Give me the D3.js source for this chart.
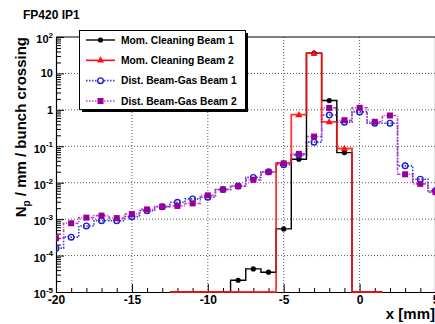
<!DOCTYPE html>
<html>
<head>
<meta charset="utf-8">
<script src="https://cdn.jsdelivr.net/npm/d3@7"></script>
<style>
  html, body { margin: 0; padding: 0; background: #fff; }
  svg { display: block; font-family: 'Liberation Sans', Arial, sans-serif; font-weight: bold; }
</style>
</head>
<body>
<svg id="chart" width="435" height="324"></svg>
<script>
// bin centres (1 mm bins) and contents
const gasBins = [-20, -19, -18, -17, -16, -15, -14, -13, -12, -11, -10, -9, -8, -7, -6, -5, -4, -3, -2, -1, 0, 1, 2, 3, 4, 5];
const beamGas1 = [1.6e-4, 3.2e-4, 6.5e-4, 9.1e-4, 9.0e-4, 1.17e-3, 1.7e-3, 2.2e-3, 2.9e-3, 3.6e-3, 4.0e-3, 6.5e-3, 8.1e-3,
  0.014, 0.020, 0.031, 0.058, 0.13, 0.72, 0.46, 0.88, 0.43, 0.43, 0.029, 0.0125, 0.006];
const beamGas2 = [3.0e-4, 7.7e-4, 1.1e-3, 1.25e-3, 1.07e-3, 1.38e-3, 1.85e-3, 2.2e-3, 2.3e-3, 2.7e-3, 4.5e-3, 6.5e-3, 8.0e-3,
  0.012, 0.0195, 0.034, 0.062, 0.185, 1.13, 0.52, 1.14, 0.47, 0.70, 0.017, 0.0093, 0.0055];

const cleanBins = [-12, -11, -10, -9, -8, -7, -6, -5, -4, -3, -2, -1, 0, 1];
const cleaning1 = [0, 0, 0, 0, 2.1e-5, 4.3e-5, 3.5e-5, 5.4e-4, 0.044, 36, 1.8, 0.067, 0, 0];
const cleaning2 = [0, 0, 0, 0, 0, 0, 0, 0.035, 0.74, 36, 0.47, 0.087, 0, 0];

const xTicks = [-20, -15, -10, -5, 0, 5];
const xMinorTicks = [-19, -18, -17, -16, -14, -13, -12, -11, -9, -8, -7, -6, -4, -3, -2, -1, 1, 2, 3, 4];
const xGrid = [-15, -10, -5, 0];
const yDecades = [1e-5, 1e-4, 1e-3, 1e-2, 1e-1, 1, 10, 100];
const yTickLabels = [['10', '-5'], ['10', '-4'], ['10', '-3'], ['10', '-2'], ['10', '-1'], ['1', ''], ['10', ''], ['10', '2']];
const yGrid = [1e-4, 1e-3, 1e-2, 1e-1, 1, 10];

const legendLabels = ['Mom. Cleaning Beam 1', 'Mom. Cleaning Beam 2', 'Dist. Beam-Gas Beam 1', 'Dist. Beam-Gas Beam 2'];

const C = {
  black: '#000000',
  red: '#ff1010',
  blue: '#1f1fd0',
  blueLine: '#3a3ae0',
  purple: '#990099',
  purpleLine: '#c03cc8'
};

const svg = d3.select('#chart');
const frame = { left: 56, right: 435.5, top: 37, bottom: 292 };

const x = d3.scaleLinear().domain([-20, 5]).range([frame.left, frame.right]);
const y = d3.scaleLog().domain([1e-5, 100]).range([frame.bottom, frame.top]).clamp(true);
const yPos = (v) => (v > 0 ? y(v) : frame.bottom);

svg.append('defs').append('clipPath').attr('id', 'plot-clip')
  .append('rect').attr('x', frame.left).attr('y', frame.top - 1)
  .attr('width', frame.right - frame.left).attr('height', frame.bottom - frame.top + 2);

// grid
const grid = svg.append('g').attr('stroke', '#333').attr('stroke-width', 0.8).attr('stroke-dasharray', '1,2');
grid.selectAll('line.gx').data(xGrid).join('line').attr('class', 'gx')
  .attr('x1', (d) => x(d)).attr('x2', (d) => x(d)).attr('y1', frame.top).attr('y2', frame.bottom);
grid.selectAll('line.gy').data(yGrid).join('line').attr('class', 'gy')
  .attr('x1', frame.left).attr('x2', frame.right).attr('y1', (d) => y(d)).attr('y2', (d) => y(d));

// axes (ticks point into the frame)
svg.append('g')
  .attr('transform', `translate(0,${frame.bottom})`)
  .call(d3.axisBottom(x).tickValues(xMinorTicks).tickSize(-4).tickSizeOuter(0).tickFormat(''))
  .call((g) => g.select('.domain').remove());
const xAxis = svg.append('g')
  .attr('transform', `translate(0,${frame.bottom})`)
  .call(d3.axisBottom(x).tickValues(xTicks).tickSize(-8).tickSizeOuter(0).tickPadding(3).tickFormat((d) => String(d)));
xAxis.selectAll('text').attr('font-size', 12).attr('font-weight', 'bold')
  .attr('font-family', 'Liberation Sans, Arial, sans-serif').attr('fill', '#000');
xAxis.select('.domain').attr('stroke-width', 1.2);

const yMinor = [];
yDecades.slice(0, -1).forEach((d) => [2, 3, 4, 5, 6, 7, 8, 9].forEach((m) => yMinor.push(d * m)));
svg.append('g')
  .attr('transform', `translate(${frame.left},0)`)
  .call(d3.axisLeft(y).tickValues(yMinor).tickSize(-5).tickSizeOuter(0).tickFormat(''))
  .call((g) => g.select('.domain').remove());
svg.append('g')
  .attr('transform', `translate(${frame.left},0)`)
  .call(d3.axisLeft(y).tickValues(yDecades).tickSize(-8).tickSizeOuter(0).tickFormat(''))
  .call((g) => g.select('.domain').attr('stroke-width', 1.2));

const yLabels = svg.append('g').attr('font-size', 11).attr('text-anchor', 'end');
yDecades.forEach((d, i) => {
  const [base, exp] = yTickLabels[i];
  const t = yLabels.append('text')
    .attr('x', frame.left - 3)
    .attr('y', y(d) + (exp ? 6.3 : 4));
  t.append('tspan').text(base);
  if (exp) t.append('tspan').attr('font-size', 8).attr('dy', -5.5).text(exp);
});

// frame top/right
svg.append('path')
  .attr('d', `M${frame.left},${frame.top}H${frame.right}V${frame.bottom}`)
  .attr('fill', 'none').attr('stroke', '#000').attr('stroke-width', 1.2);

// histograms
const line = d3.line();
function stepPoints(centers, values) {
  const pts = [];
  centers.forEach((c, i) => {
    const yy = yPos(values[i]);
    pts.push([x(c - 0.5), yy], [x(c + 0.5), yy]);
  });
  return pts;
}

const plot = svg.append('g').attr('clip-path', 'url(#plot-clip)');

plot.append('path').attr('d', line(stepPoints(gasBins, beamGas1)))
  .attr('fill', 'none').attr('stroke', C.blueLine).attr('stroke-width', 1.6).attr('stroke-dasharray', '1.5,1.5');
plot.append('path').attr('d', line(stepPoints(gasBins, beamGas2)))
  .attr('fill', 'none').attr('stroke', C.purpleLine).attr('stroke-width', 1.6).attr('stroke-dasharray', '3,1.5,1,1.5');

plot.append('path').attr('d', line(stepPoints(cleanBins, cleaning1)))
  .attr('fill', 'none').attr('stroke', C.black).attr('stroke-width', 1.4);
plot.append('path').attr('d', line(stepPoints(cleanBins, cleaning2)))
  .attr('fill', 'none').attr('stroke', C.red).attr('stroke-width', 1.8).attr('stroke-opacity', 0.85);

const nz = (centers, values) => centers.map((c, i) => [c, values[i]]).filter((d) => d[1] > 0);

plot.append('g').selectAll('circle').data(nz(cleanBins, cleaning1)).join('circle')
  .attr('cx', (d) => x(d[0])).attr('cy', (d) => y(d[1])).attr('r', 2.6).attr('fill', C.black);
plot.append('g').selectAll('path').data(nz(cleanBins, cleaning2)).join('path')
  .attr('transform', (d) => `translate(${x(d[0])},${y(d[1]) + 0.5})`)
  .attr('d', d3.symbol(d3.symbolTriangle, 22)).attr('fill', C.red);
plot.append('g').selectAll('circle').data(nz(gasBins, beamGas1)).join('circle')
  .attr('cx', (d) => x(d[0])).attr('cy', (d) => y(d[1])).attr('r', 2.8)
  .attr('fill', 'none').attr('stroke', C.blue).attr('stroke-width', 1.4);
plot.append('g').selectAll('rect').data(nz(gasBins, beamGas2)).join('rect')
  .attr('x', (d) => x(d[0]) - 3).attr('y', (d) => y(d[1]) - 3).attr('width', 6).attr('height', 6).attr('fill', C.purple);

// legend
const lg = svg.append('g');
lg.append('rect').attr('x', 82).attr('y', 33).attr('width', 166).attr('height', 79).attr('fill', '#000');
lg.append('rect').attr('x', 79.5).attr('y', 30.5).attr('width', 166).attr('height', 79)
  .attr('fill', '#fff').attr('stroke', '#000').attr('stroke-width', 1);
const rowY = d3.scalePoint().domain(legendLabels).range([40, 101]);
const styles = [
  { stroke: C.black, dash: null, w: 1.4 },
  { stroke: C.red, dash: null, w: 1.6 },
  { stroke: C.blueLine, dash: '1.5,1.5', w: 1.6 },
  { stroke: C.purpleLine, dash: '1.5,1.5', w: 1.6 }
];
legendLabels.forEach((label, i) => {
  const yy = rowY(label);
  const s = styles[i];
  lg.append('line').attr('x1', 86).attr('x2', 115).attr('y1', yy).attr('y2', yy)
    .attr('stroke', s.stroke).attr('stroke-width', s.w).attr('stroke-dasharray', s.dash);
  if (i === 0) lg.append('circle').attr('cx', 100.5).attr('cy', yy).attr('r', 2.6).attr('fill', C.black);
  if (i === 1) lg.append('path').attr('transform', `translate(100.5,${yy})`).attr('d', d3.symbol(d3.symbolTriangle, 22)).attr('fill', C.red);
  if (i === 2) lg.append('circle').attr('cx', 100.5).attr('cy', yy).attr('r', 2.8).attr('fill', '#fff').attr('stroke', C.blue).attr('stroke-width', 1.4);
  if (i === 3) lg.append('rect').attr('x', 97.5).attr('y', yy - 3).attr('width', 6).attr('height', 6).attr('fill', C.purple);
  lg.append('text').attr('x', 121).attr('y', yy + 3.7).attr('font-size', 10.3).text(label);
});

// titles
svg.append('text').attr('x', 23).attr('y', 19).attr('font-size', 12).text('FP420 IP1');
svg.append('text').attr('x', 435).attr('y', 319).attr('font-size', 15).attr('text-anchor', 'end').text('x [mm]');
const yt = svg.append('text').attr('transform', 'translate(26,37) rotate(-90)')
  .attr('font-size', 15).attr('text-anchor', 'end');
yt.append('tspan').text('N');
yt.append('tspan').attr('font-size', 10).attr('dy', 4).text('p');
yt.append('tspan').attr('dy', -4).text(' / mm / bunch crossing');
</script>
</body>
</html>
